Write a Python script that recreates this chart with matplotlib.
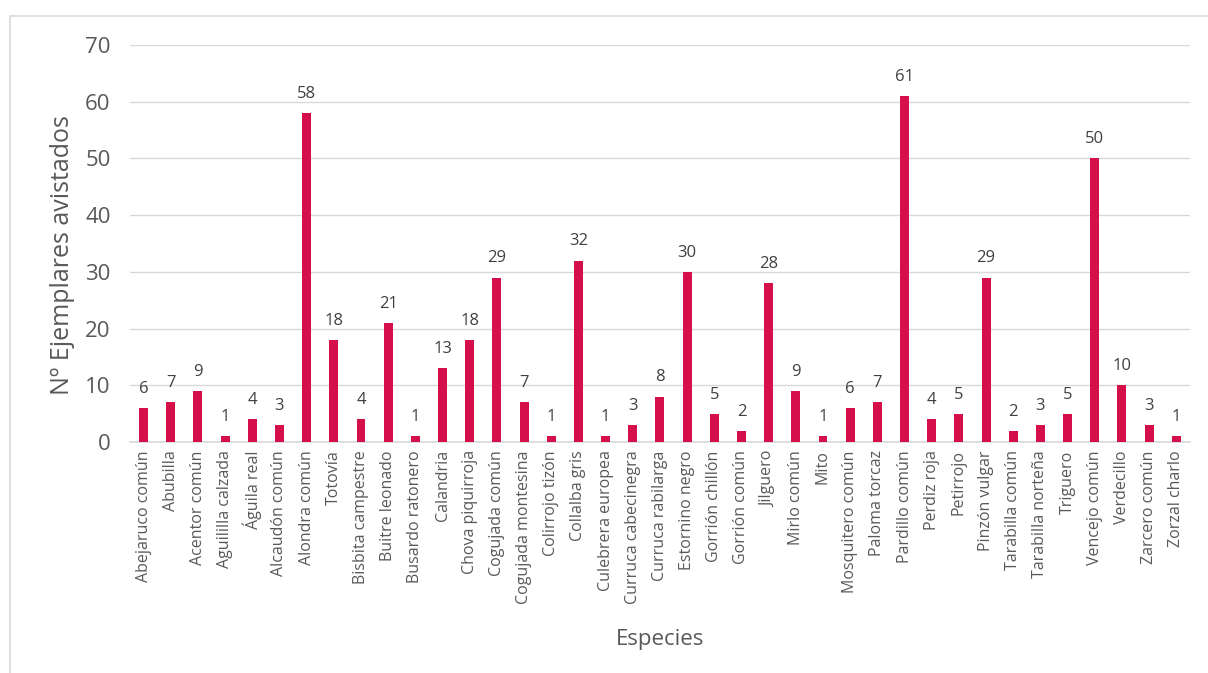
import matplotlib.pyplot as plt
from matplotlib.patches import Rectangle

plt.rcParams['font.family'] = ['Open Sans', 'DejaVu Sans']

especies = ['Abejaruco común', 'Abubilla', 'Acentor común', 'Aguililla calzada',
            'Águila real', 'Alcaudón común', 'Alondra común', 'Totovía',
            'Bisbita campestre', 'Buitre leonado', 'Busardo ratonero', 'Calandria',
            'Chova piquirroja', 'Cogujada común', 'Cogujada montesina',
            'Colirrojo tizón', 'Collalba gris', 'Culebrera europea',
            'Curruca cabecinegra', 'Curruca rabilarga', 'Estornino negro',
            'Gorrión chillón', 'Gorrión común', 'Jilguero', 'Mirlo común', 'Mito',
            'Mosquitero común', 'Paloma torcaz', 'Pardillo común', 'Perdiz roja',
            'Petirrojo', 'Pinzón vulgar', 'Tarabilla común', 'Tarabilla norteña',
            'Triguero', 'Vencejo común', 'Verdecillo', 'Zarcero común',
            'Zorzal charlo']
ejemplares = [6, 7, 9, 1, 4, 3, 58, 18, 4, 21, 1, 13, 18, 29, 7, 1, 32, 1, 3, 8,
              30, 5, 2, 28, 9, 1, 6, 7, 61, 4, 5, 29, 2, 3, 5, 50, 10, 3, 1]
yticks = [0, 10, 20, 30, 40, 50, 60, 70]

fig = plt.figure(figsize=(12.08, 6.73), dpi=100)
ax = fig.add_axes([0.1076, 0.3433, 0.8774, 0.5897])

# light frame round the chart, as in Excel
fig.patches.append(Rectangle((10 / 1208, -0.01), 1.02, 1 - 16 / 673 + 0.01,
                             transform=fig.transFigure, fill=False,
                             edgecolor='#d9d9d9', linewidth=1.2))

x = range(len(especies))
bars = ax.bar(x, ejemplares, width=0.33, color='#D50F4A', zorder=3)

for xi, v in zip(x, ejemplares):
    ax.annotate(str(v), (xi, v), xytext=(0, 8), textcoords='offset points',
                ha='center', va='bottom', fontsize=12, color='#404040')

ax.set_xlim(-0.5, len(especies) - 0.5)
ax.set_ylim(0, 70)
ax.set_yticks(yticks)
ax.set_xticks(list(x))
ax.set_xticklabels(especies, rotation=90, fontsize=11.5, color='#595959')
ax.tick_params(axis='y', labelsize=16, labelcolor='#595959', length=0, pad=14)
ax.tick_params(axis='x', length=0, pad=6)

ax.grid(axis='y', color='#d9d9d9', linewidth=1, zorder=0)
for s in ['top', 'right', 'left']:
    ax.spines[s].set_visible(False)
ax.spines['bottom'].set_color('#d9d9d9')
ax.spines['bottom'].set_linewidth(1.2)

ax.set_ylabel('Nº Ejemplares avistados', fontsize=18, color='#595959')
ax.yaxis.set_label_coords(-0.052, 0.47)
ax.set_xlabel('Especies', fontsize=16, color='#595959', labelpad=18)

plt.savefig('out.png', dpi=100)
